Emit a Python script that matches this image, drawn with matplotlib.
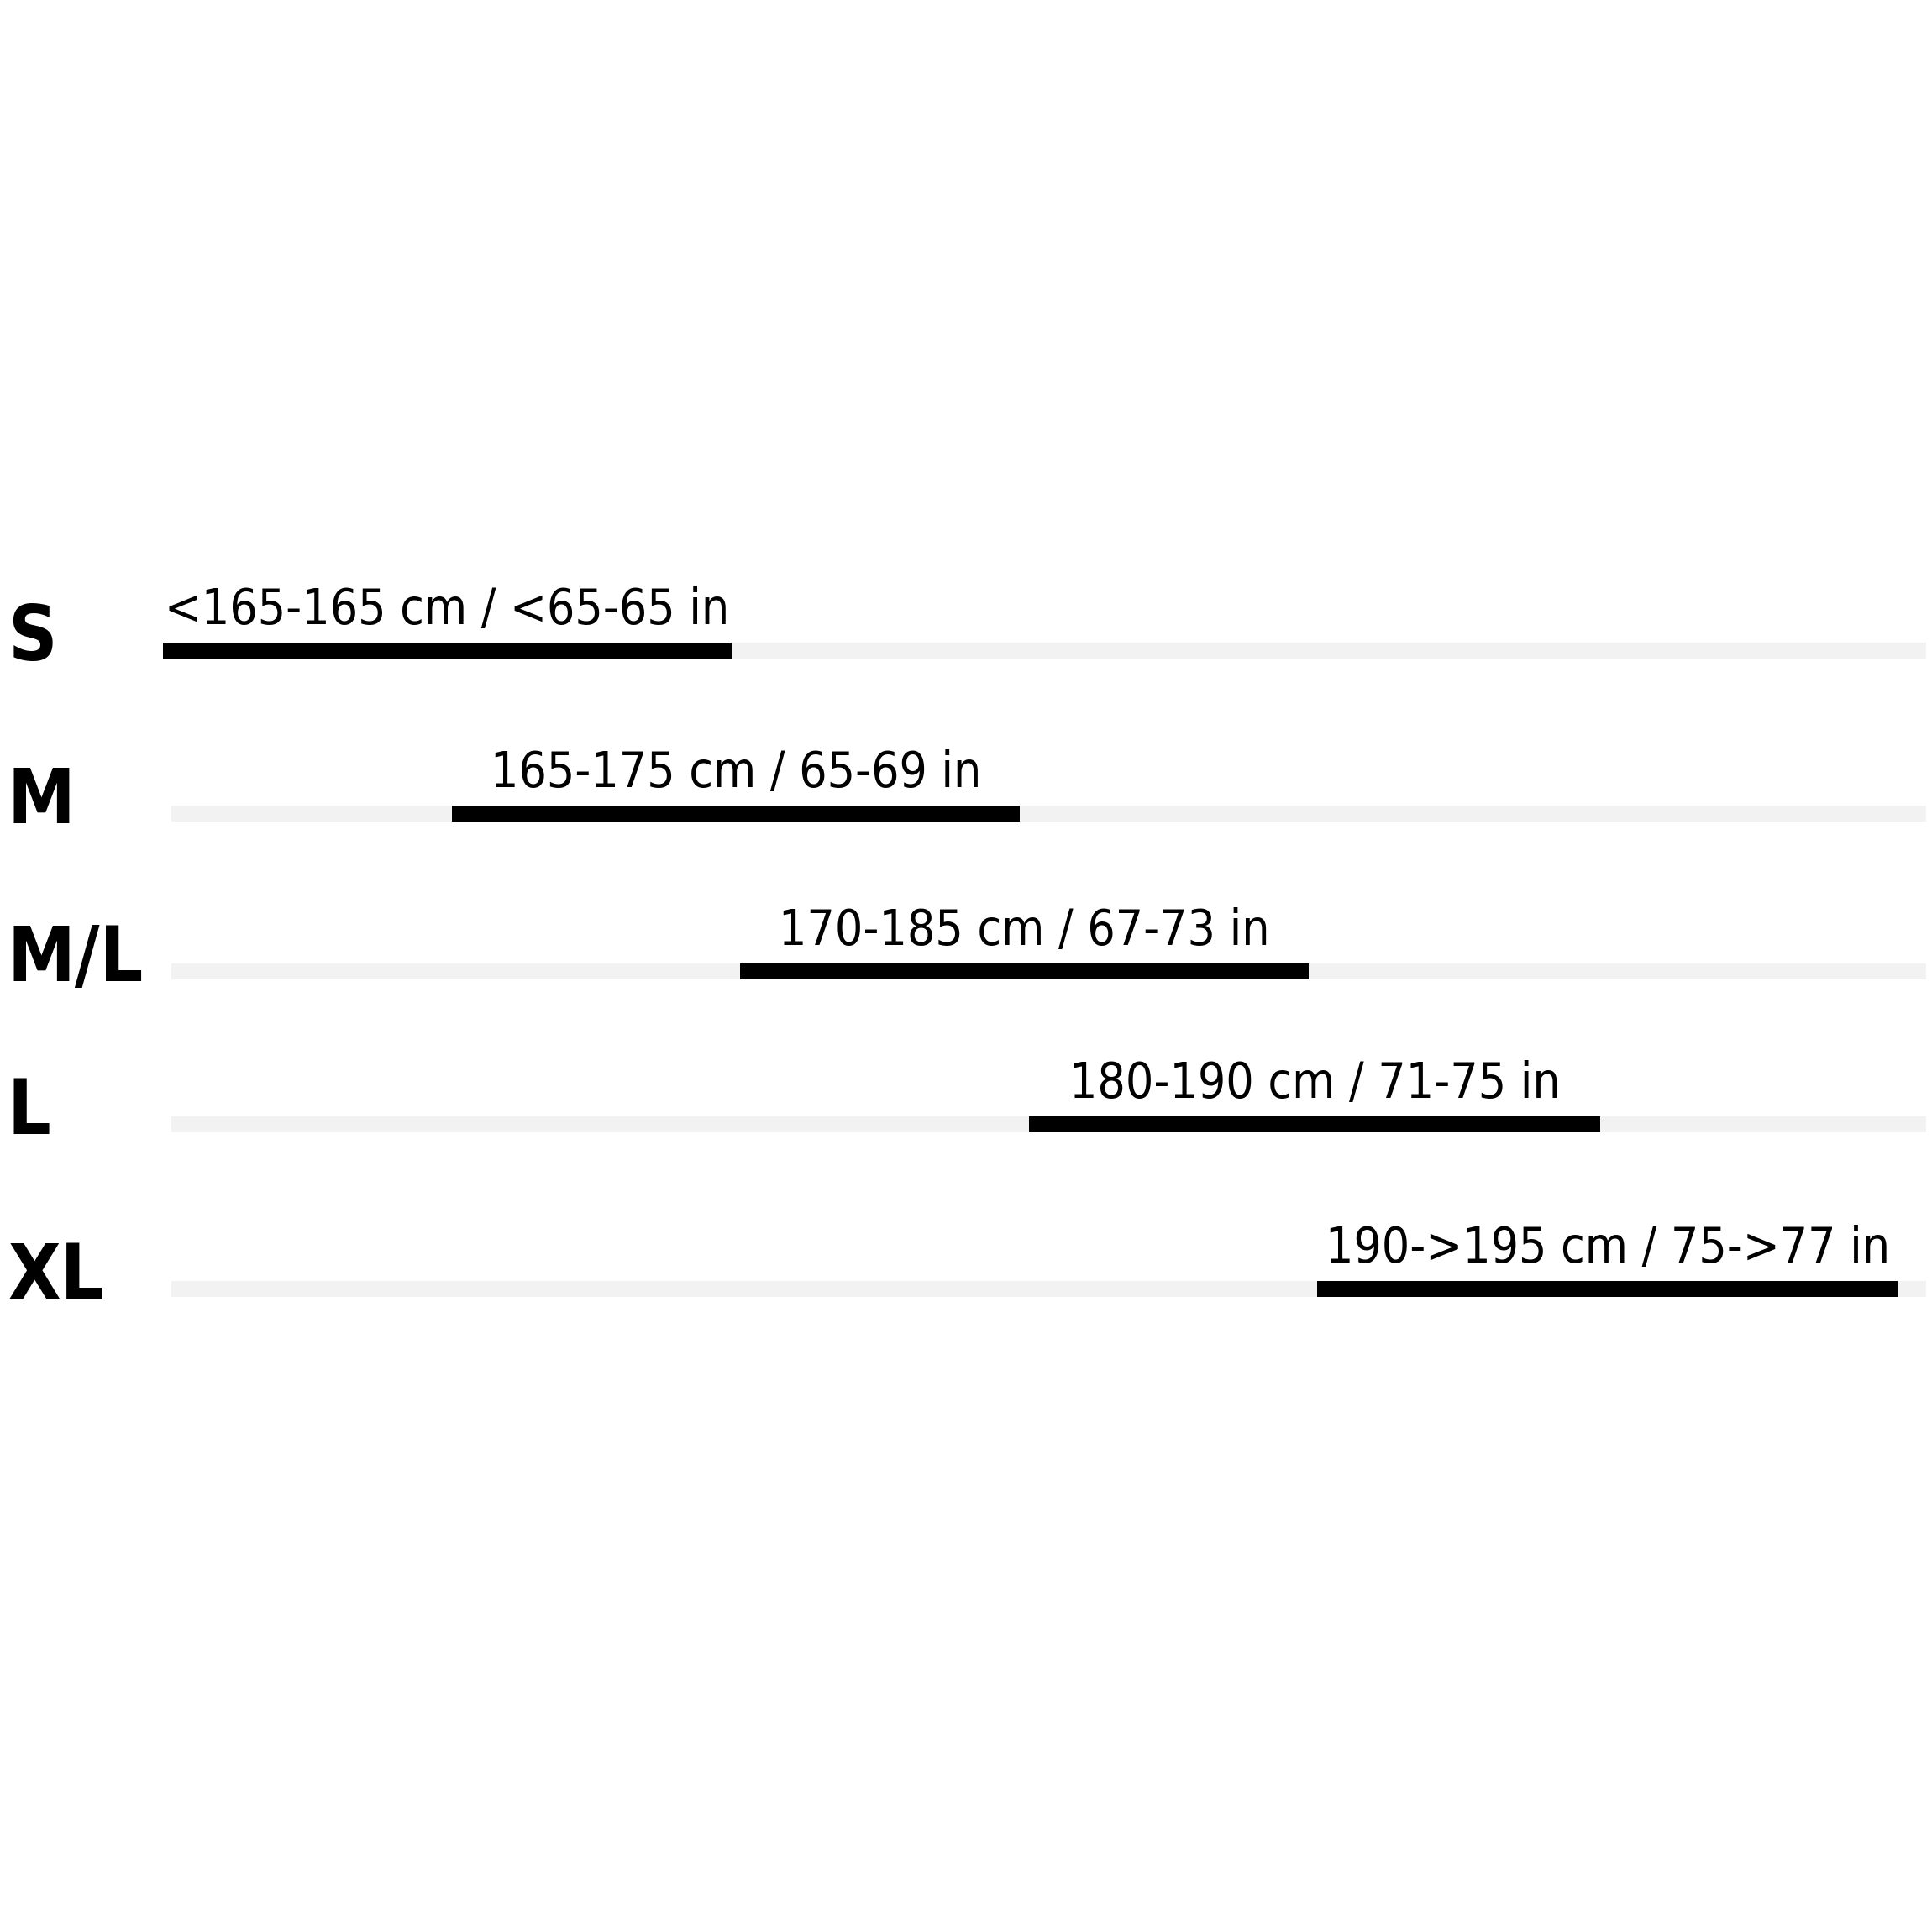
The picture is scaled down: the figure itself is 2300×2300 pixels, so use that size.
import numpy as np
import matplotlib
matplotlib.use("Agg")
from matplotlib import pyplot as plt
from matplotlib import transforms

sizes = ["S", "M", "M/L", "L", "XL"]
ranges = ["<165-165 cm / <65-65 in", "165-175 cm / 65-69 in", "170-185 cm / 67-73 in",
          "180-190 cm / 71-75 in", "190->195 cm / 75->77 in"]
# bar start / length in "size step" units
starts = [0.0, 1.0, 2.0, 3.0, 4.0]
lengths = [1.97, 1.97, 1.97, 1.98, 2.01]
track_start = 0.03
track_end = 6.11

# layout (pixel rows of the 2300px image)
row_y = [774, 968, 1156, 1338, 1534]
bar_h = 19
px_per_unit = 343.6
x0_px = 194

fig = plt.figure(figsize=(23, 23), dpi=100)
ax = fig.add_axes([0, 0, 1, 1])
ax.set_xlim(-x0_px / px_per_unit, (2300 - x0_px) / px_per_unit)
ax.set_ylim(2300, 0)
ax.axis("off")

ax.barh(row_y, track_end - track_start, left=track_start, height=bar_h, color="#f2f2f2", zorder=1)
ax.barh(row_y, lengths, left=starts, height=bar_h, color="black", zorder=2)

trans = transforms.blended_transform_factory(ax.transAxes, ax.transData)
for y, s, r, st, ln in zip(row_y, sizes, ranges, starts, lengths):
    ax.text(9 / 2300, y + 12, s, transform=trans, fontsize=65, fontweight="bold",
            fontstretch="condensed", family="DejaVu Sans", ha="left", va="baseline")
    ax.text(st + ln / 2, y - 31, r, fontsize=42, fontstretch="condensed",
            family="DejaVu Sans", ha="center", va="baseline")

fig.savefig("out.png", dpi=100)
